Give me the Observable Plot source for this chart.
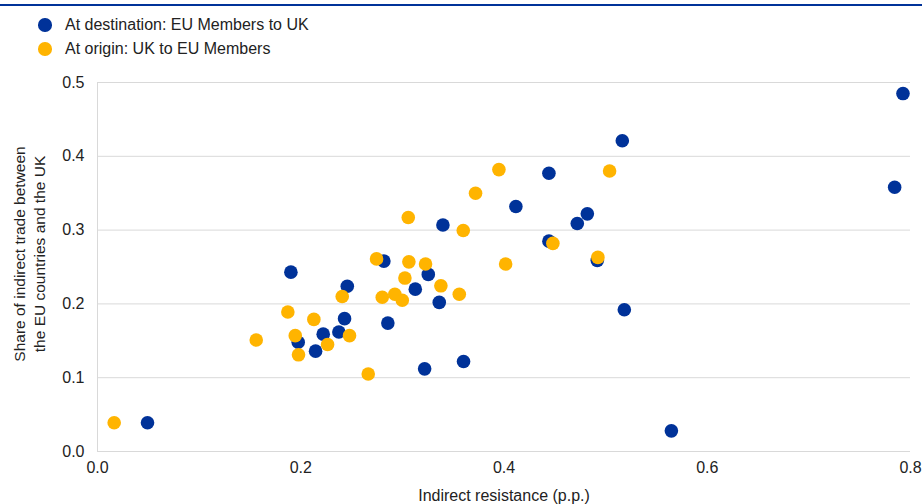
<!DOCTYPE html>
<html>
<head>
<meta charset="utf-8">
<script src="https://cdn.jsdelivr.net/npm/d3@7"></script>
<script src="https://cdn.jsdelivr.net/npm/@observablehq/plot@0.6"></script>
<style>
  html, body { margin: 0; padding: 0; background: #fff; }
  body { width: 922px; height: 504px; overflow: hidden; font-family: "Liberation Sans", Arial, sans-serif; color: #222; }
  #topline { height: 2px; background: #003299; margin-top: 4px; }
  #legend { height: 54px; position: relative; }
  .item { position: absolute; left: 38px; display: flex; align-items: center; font-size: 16px; line-height: 18px; }
  .sw { width: 13.5px; height: 13.5px; border-radius: 50%; margin-right: 13.5px; }
</style>
</head>
<body>
<div id="topline"></div>
<div id="legend"></div>
<div id="chart"></div>
<script>
const seriesNames = ["At destination: EU Members to UK", "At origin: UK to EU Members"];
const seriesColors = ["#003299", "#FFB400"];

const destX = [0.0492, 0.1903, 0.1975, 0.2146, 0.2221, 0.2375, 0.2431, 0.2458, 0.2818, 0.2857, 0.3127, 0.3255, 0.3219, 0.3363, 0.3399, 0.3602, 0.4117, 0.4442, 0.4442, 0.4721, 0.4820, 0.4918, 0.5164, 0.5184, 0.5647, 0.7844, 0.7926];
const destY = [0.039, 0.243, 0.148, 0.136, 0.159, 0.162, 0.180, 0.224, 0.258, 0.174, 0.220, 0.240, 0.112, 0.202, 0.307, 0.122, 0.332, 0.377, 0.285, 0.309, 0.322, 0.259, 0.421, 0.192, 0.028, 0.358, 0.485];

const origX = [0.0164, 0.1562, 0.1873, 0.1946, 0.1978, 0.2129, 0.2264, 0.2408, 0.2480, 0.2664, 0.2746, 0.2802, 0.2926, 0.2999, 0.3025, 0.3058, 0.3064, 0.3228, 0.3379, 0.3560, 0.3599, 0.3720, 0.3950, 0.4016, 0.4481, 0.4924, 0.5039];
const origY = [0.039, 0.151, 0.189, 0.157, 0.131, 0.179, 0.145, 0.210, 0.157, 0.105, 0.261, 0.209, 0.213, 0.205, 0.235, 0.317, 0.257, 0.254, 0.2245, 0.213, 0.2995, 0.350, 0.382, 0.254, 0.282, 0.263, 0.380];

const xTicks = [0, 0.2, 0.4, 0.6, 0.8];
const yTicks = [0, 0.1, 0.2, 0.3, 0.4, 0.5];
const xTitle = "Indirect resistance (p.p.)";
const yTitle = "Share of indirect trade between\nthe EU countries and the UK";

const dest = destX.map((x, i) => ({x, y: destY[i], s: seriesNames[0]}));
const orig = origX.map((x, i) => ({x, y: origY[i], s: seriesNames[1]}));

// legend
const legend = document.getElementById("legend");
seriesNames.forEach((n, i) => {
  const d = document.createElement("div");
  d.className = "item";
  d.style.top = (i * 24 + 10) + "px";
  d.innerHTML = `<span class="sw" style="background:${seriesColors[i]}"></span><span>${n}</span>`;
  legend.appendChild(d);
});

const chart = Plot.plot({
  width: 922,
  height: 444,
  marginLeft: 97,
  marginRight: 12,
  marginTop: 22,
  marginBottom: 53,
  style: {fontFamily: "Liberation Sans, Arial, sans-serif", fontSize: "16px", color: "#222", background: "#fff"},
  x: {domain: [0, 0.8], ticks: xTicks, tickFormat: d3.format(".1f")},
  y: {domain: [0, 0.5], ticks: yTicks, tickFormat: d3.format(".1f")},
  color: {domain: seriesNames, range: seriesColors},
  marks: [
    Plot.gridY(yTicks, {stroke: "#d9d9d9", strokeOpacity: 1, strokeWidth: 1}),
    Plot.ruleX([0], {stroke: "#d9d9d9", strokeWidth: 1}),
    Plot.axisX({ticks: xTicks, tickSize: 0, tickPadding: 10, tickFormat: d3.format(".1f"), fontSize: 16,
      label: xTitle, labelAnchor: "center", labelArrow: "none", labelOffset: 49}),
    Plot.axisY({ticks: yTicks, tickSize: 0, tickPadding: 13, tickFormat: d3.format(".1f"), fontSize: 16, label: null}),
    Plot.text([yTitle], {frameAnchor: "left", dx: -69, dy: -13, rotate: -90, lineAnchor: "middle", textAnchor: "middle", fontSize: 15.5, fill: "#222", lineHeight: 1.3}),
    Plot.dot(dest, {x: "x", y: "y", fill: "s", r: 6.8, stroke: null}),
    Plot.dot(orig, {x: "x", y: "y", fill: "s", r: 6.8, stroke: null})
  ]
});
document.getElementById("chart").appendChild(chart);
</script>
</body>
</html>
